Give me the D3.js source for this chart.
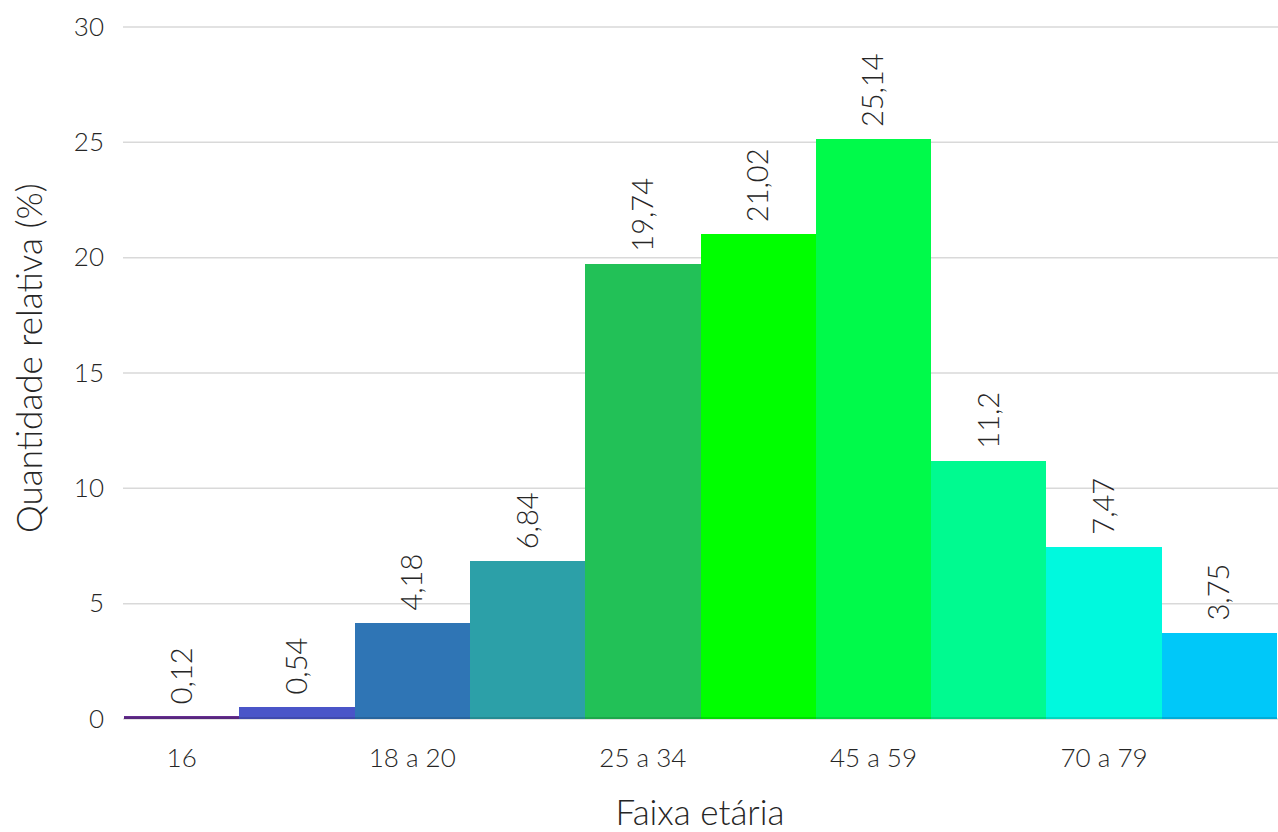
<!DOCTYPE html>
<html><head><meta charset="utf-8">
<script src="https://cdn.jsdelivr.net/npm/d3@7"></script>
<style>body{margin:0;background:#fff;} text{font-family:Lato,sans-serif;font-weight:300;fill:#262626;}</style>
</head><body><svg id="c" width="1278" height="832"></svg>
<script>
const categories = ["16","17","18 a 20","21 a 24","25 a 34","35 a 44","45 a 59","60 a 69","70 a 79","Superior a 79"];
const values = [0.12,0.54,4.18,6.84,19.74,21.02,25.14,11.2,7.47,3.75];
const colors = ["#662d91","#4a55c8","#2f75b5","#2ca0a8","#22c157","#00ff00","#00fa4a","#00fa90","#00f9de","#00c8f9"];
const yTicks = [0,5,10,15,20,25,30];
const shownLabels = ["16","18 a 20","25 a 34","45 a 59","70 a 79"];

const svg = d3.select("#c");
const m = {l:124, r:1277, t:27, b:719};
const x = d3.scaleBand().domain(categories).range([m.l, m.r]).padding(0);
const y = d3.scaleLinear().domain([0,30]).range([m.b, m.t]);
const fmt = v => String(v).replace(".", ",");

// grid
svg.append("g").selectAll("line").data(yTicks).join("line")
  .attr("x1", m.l-1).attr("x2", 1278).attr("y1", d=>y(d)).attr("y2", d=>y(d))
  .attr("stroke","#d9d9d9").attr("stroke-width",1.5);

// y axis labels
const ya = svg.append("g").attr("transform",`translate(${m.l-20},0)`)
  .call(d3.axisLeft(y).tickValues(yTicks).tickSize(0).tickPadding(0));
ya.select(".domain").remove();
ya.selectAll("text").style("font-size","26px").style("font-family","Lato").style("font-weight","300").attr("fill","#262626");

// bars
svg.append("g").attr("shape-rendering","crispEdges").selectAll("rect").data(values).join("rect")
  .attr("x",(d,i)=>Math.round(x(categories[i]))).attr("width",(d,i)=>Math.round(x(categories[i])+x.bandwidth())-Math.round(x(categories[i])))
  .attr("y",d=>y(d)).attr("height",d=>y(0)-y(d))
  .attr("fill",(d,i)=>colors[i]);
svg.append("g").attr("shape-rendering","crispEdges").selectAll("line").data(values).join("line")
  .attr("x1",(d,i)=>Math.round(x(categories[i]))).attr("x2",(d,i)=>Math.round(x(categories[i])+x.bandwidth()))
  .attr("y1",y(0)-1).attr("y2",y(0)-1)
  .attr("stroke",(d,i)=>d3.color(colors[i]).darker(0.4)).attr("stroke-width",2);

// value labels
svg.append("g").selectAll("text").data(values).join("text")
  .attr("transform",(d,i)=>`translate(${x(categories[i])+x.bandwidth()/2+10},${y(d)-12}) rotate(-90)`)
  .style("font-size","29px").text(d=>fmt(d));

// x axis labels
const xa = svg.append("g").attr("transform",`translate(0,${y(0)})`)
  .call(d3.axisBottom(x).tickSize(0).tickPadding(0).tickFormat(d=>shownLabels.includes(d)?d:""));
xa.select(".domain").remove();
xa.selectAll("text").attr("dy",null).attr("y",48).style("font-size","26px").style("font-family","Lato").style("font-weight","300").attr("fill","#262626");

// titles
svg.append("text").attr("x",700).attr("y",825).attr("text-anchor","middle").style("font-size","35px").text("Faixa etária");
svg.append("text").attr("transform","translate(42,358) rotate(-90)").attr("text-anchor","middle").style("font-size","35px").text("Quantidade relativa (%)");
</script></body></html>
